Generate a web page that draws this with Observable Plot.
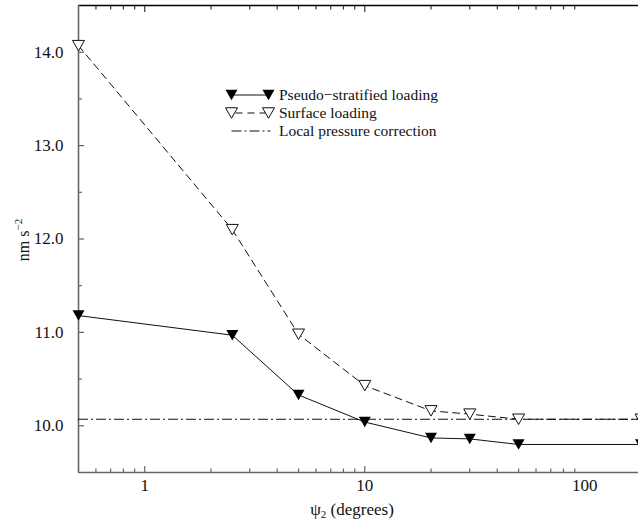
<!DOCTYPE html>
<html><head><meta charset="utf-8">
<script src="https://cdn.jsdelivr.net/npm/d3@7"></script>
<script src="https://cdn.jsdelivr.net/npm/@observablehq/plot@0.6"></script>
<style>
html,body{margin:0;padding:0;background:#fff;}
#wrap{position:relative;width:638px;height:523px;overflow:hidden;font-family:"Liberation Serif","Times New Roman",serif;color:#111;}
#wrap > svg{position:absolute;left:0;top:0;}
.ytitle{position:absolute;left:22px;top:240px;transform:translate(-50%,-50%) rotate(-90deg);font-size:16px;white-space:nowrap;}
.ytitle sup{font-size:11px;vertical-align:7px;}
.xtitle{position:absolute;left:352px;top:510px;transform:translate(-50%,-50%);font-size:17px;white-space:nowrap;}
.xtitle sub{font-size:11px;vertical-align:-3px;}
</style>
</head><body><div id="wrap"></div>
<script>
// ---- data ----
const angles = [0.5, 2.5, 5, 10, 20, 30, 50, 180];
const pseudoStratified = [11.18, 10.97, 10.33, 10.04, 9.87, 9.86, 9.80, 9.80];
const surfaceLoading = [14.07, 12.10, 10.98, 10.43, 10.16, 10.125, 10.07, 10.07];
const localPressure = [10.07];
const xDomain = [0.5, 180];
const yDomain = [9.5, 14.5];
const xTickLabels = [1, 10, 100];
const xMajorTickMarks = [1, 10];
const xMinorTicks = [0.6, 0.7, 0.8, 0.9, 2, 3, 4, 5, 6, 7, 8, 9, 20, 30, 40, 50, 60, 70, 80, 90];
const yMajorTicks = [10, 11, 12, 13, 14];
const yMinorTicks = [10.5, 11.5, 12.5, 13.5];
const seriesNames = ["Pseudo\u2212stratified loading", "Surface loading", "Local pressure correction"];

// ---- build ----
const pseudo = angles.map((x, i) => ({x, y: pseudoStratified[i]}));
const surface = angles.map((x, i) => ({x, y: surfaceLoading[i]}));

const triDown = {
  draw(ctx, size) {
    const r = Math.sqrt(size / Math.PI);
    const w = r, h = 0.875 * r;
    ctx.moveTo(-w, -h); ctx.lineTo(w, -h); ctx.lineTo(0, h); ctx.closePath();
  }
};

const W = 638, H = 523;
const mL = 78, mT = 5, mB = 51, mR = -2.5;
const axisGrey = "#666";
const FONT = "'Liberation Serif', 'Times New Roman', serif";

const chart = Plot.plot({
  width: W, height: H,
  marginLeft: mL, marginRight: mR, marginTop: mT, marginBottom: mB,
  x: {type: "log", domain: xDomain, range: [mL, W - mR], label: null},
  y: {domain: yDomain, range: [H - mB, mT], label: null},
  style: {fontFamily: FONT, fontSize: "17px", background: "transparent", color: "#111", overflow: "hidden"},
  marks: [
    // frame lines
    Plot.ruleY([yDomain[0]], {stroke: axisGrey, strokeWidth: 1.6}),
    Plot.ruleY([yDomain[1]], {stroke: "#000", strokeWidth: 1.4}),
    Plot.ruleX([xDomain[0]], {stroke: axisGrey, strokeWidth: 1.6}),
    // ticks (inward)
    Plot.axisX(xMajorTickMarks, {anchor: "bottom", tickSize: -6, fill: "none", stroke: axisGrey, strokeWidth: 1.2, label: null}),
    Plot.axisX(xMinorTicks, {anchor: "bottom", tickSize: -3.5, fill: "none", stroke: axisGrey, strokeWidth: 1.2, label: null}),
    Plot.axisX(xMajorTickMarks, {anchor: "top", tickSize: -6, fill: "none", stroke: "#333", strokeWidth: 1.2, label: null}),
    Plot.axisX(xMinorTicks, {anchor: "top", tickSize: -3.5, fill: "none", stroke: "#333", strokeWidth: 1.2, label: null}),
    Plot.axisY(yMajorTicks, {anchor: "left", tickSize: -6, fill: "none", stroke: axisGrey, strokeWidth: 1.2, label: null}),
    Plot.axisY(yMinorTicks, {anchor: "left", tickSize: -4, fill: "none", stroke: axisGrey, strokeWidth: 1.2, label: null}),
    // tick labels
    Plot.axisX(xTickLabels, {anchor: "bottom", tickSize: 0, tickPadding: 6, tickFormat: d => String(d), label: null, fill: "#111"}),
    Plot.axisY(yMajorTicks, {anchor: "left", tickSize: 0, tickPadding: 15, tickFormat: d => d.toFixed(1), label: null, fill: "#111"}),
    // data
    Plot.ruleY(localPressure, {stroke: "#111", strokeWidth: 1, strokeDasharray: "10,3,2,3"}),
    Plot.line(surface, {x: "x", y: "y", stroke: "#111", strokeWidth: 1, strokeDasharray: "7,5"}),
    Plot.line(pseudo, {x: "x", y: "y", stroke: "#111", strokeWidth: 1}),
    Plot.dot(surface, {x: "x", y: "y", symbol: triDown, r: 6, fill: "white", stroke: "#111", strokeWidth: 1}),
    Plot.dot(pseudo, {x: "x", y: "y", symbol: triDown, r: 6, fill: "#000", stroke: "none"})
  ]
});

const wrap = document.getElementById("wrap");
wrap.appendChild(chart);

// legend overlay
const lg = d3.create("svg").attr("width", W).attr("height", H)
  .style("font-family", FONT).style("font-size", "15.5px");
const lx1 = 231.5, lx2 = 268.5, tx = 279;
const rows = [95, 113, 131];
const triPath = d3.path(); triDown.draw(triPath, Math.PI * 36);
const tp = triPath.toString();
// row 1
lg.append("line").attr("x1", lx1).attr("x2", lx2).attr("y1", rows[0]).attr("y2", rows[0]).attr("stroke", "#111");
[lx1, lx2].forEach(x => lg.append("path").attr("d", tp).attr("transform", `translate(${x},${rows[0]})`).attr("fill", "#000"));
// row 2
lg.append("line").attr("x1", lx1).attr("x2", lx2).attr("y1", rows[1]).attr("y2", rows[1]).attr("stroke", "#111").attr("stroke-dasharray", "7,5").attr("stroke-dashoffset", -4);
[lx1, lx2].forEach(x => lg.append("path").attr("d", tp).attr("transform", `translate(${x},${rows[1]})`).attr("fill", "white").attr("stroke", "#111"));
// row 3
lg.append("line").attr("x1", lx1).attr("x2", lx2 + 2).attr("y1", rows[2]).attr("y2", rows[2]).attr("stroke", "#111").attr("stroke-dasharray", "10,3,2,3");
seriesNames.forEach((s, i) => lg.append("text").attr("x", tx).attr("y", rows[i]).attr("dy", "0.33em").attr("fill", "#111").text(s));
wrap.appendChild(lg.node());

// axis titles
const yt = document.createElement("div"); yt.className = "ytitle"; yt.innerHTML = "nm s<sup>\u22122</sup>"; wrap.appendChild(yt);
const xt = document.createElement("div"); xt.className = "xtitle"; xt.innerHTML = "\u03c8<sub>2</sub> (degrees)"; wrap.appendChild(xt);
</script>
</body></html>
